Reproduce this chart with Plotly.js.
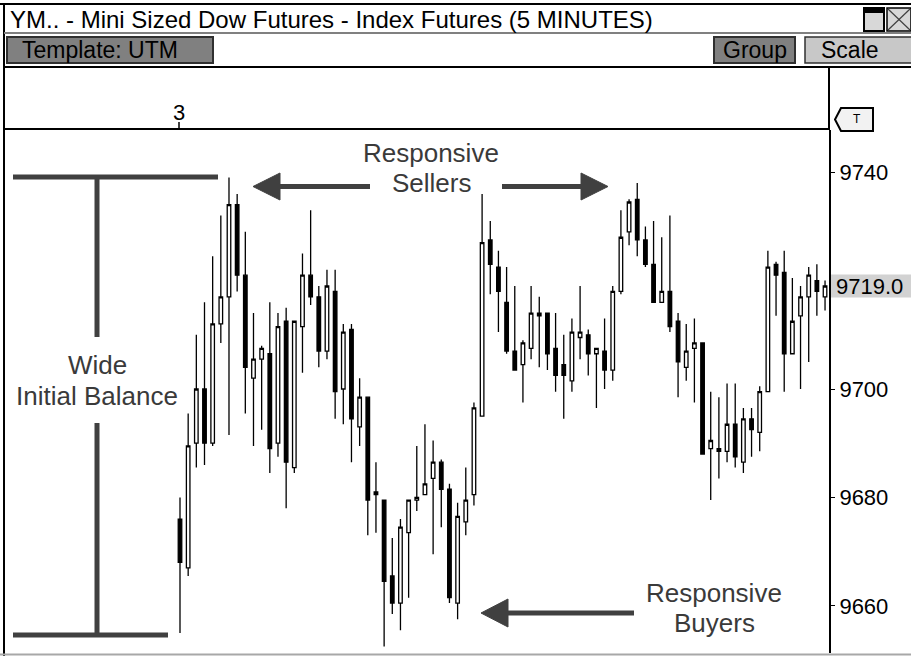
<!DOCTYPE html>
<html>
<head>
<meta charset="utf-8">
<script src="https://cdn.plot.ly/plotly-3.0.1.min.js"></script>
<style>
  html, body { margin: 0; padding: 0; background: #fff; }
  #chart { width: 911px; height: 656px; }
</style>
</head>
<body>
<div id="chart"></div>
<script>
// ---- data: YM 5-minute bars ----
const openP  = [9676,9667,9690,9700,9690,9712,9717,9734,9721,9702,
                9705.5,9706.5,9690,9712.5,9685.5,9711.5,9721,9717,9707,9718,
                9700,9711,9693,9698.5,9681,9679.5,9665.5,9660.5,9673.5,9679.5,
                9680.5,9683.5,9686.5,9681.5,9660.5,9675.5,9680.5,9695,9727.5,9722.5,
                9716,9707,9704.5,9707.5,9714,9714,9707.5,9704.5,9701.5,9709.5,
                9710,9706.5,9707,9703.5,9718,9729,9735,9727.5,9723,9716,
                9718,9712.5,9704,9707.5,9708.5,9689,9689,9688.5,9693.5,9686.5,
                9694.5,9692,9699.5,9723,9721.5,9706.5,9713.5,9717,9720,9717];
const highP  = [9680,9695.5,9710,9716,9724.5,9732,9739,9736,9729,9714,
                9708,9716,9714,9715,9712.5,9725,9733,9719,9722,9722,
                9712,9712,9702,9698.5,9686.5,9679.5,9672.5,9676,9679.5,9689.5,
                9693.5,9690.5,9687,9682.5,9679,9685.5,9697.5,9736,9731,9725.5,
                9722.5,9719,9709,9719,9717,9714,9714,9710,9713,9719,
                9711,9707.5,9713,9719,9733,9735,9738,9730,9731,9728,
                9732,9714,9712,9713,9708.5,9699.5,9698.5,9701,9701,9696.5,
                9696.5,9700.5,9725.5,9723.5,9725.5,9720.5,9719,9722.5,9723,9720];
const lowP   = [9655,9665.5,9685.5,9686,9689.5,9708.5,9691.5,9718,9695.5,9689.5,
                9692.5,9684.5,9687.5,9678,9684.5,9703,9715.5,9704,9705.5,9694.5,
                9693.5,9686.5,9689.5,9673,9673.5,9652.5,9658.5,9655.5,9661.5,9677.5,
                9680.5,9669.5,9674.5,9660.5,9657.5,9673,9678.5,9695,9717.5,9710.5,
                9706.5,9703.5,9697.5,9705.5,9704,9703.5,9699.5,9694.5,9699.5,9705.5,
                9702.5,9696.5,9700,9701.5,9717.5,9726.5,9724.5,9722.5,9716,9716,
                9710.5,9698.5,9701.5,9697.5,9688,9679.5,9683.5,9686.5,9685.5,9684.5,
                9687.5,9688.5,9699.5,9713.5,9699.5,9706.5,9700,9705,9713.5,9714.5];
const closeP = [9668,9689.5,9700,9690,9712,9717,9734,9721,9704,9705.5,
                9707.5,9689,9711.5,9686.5,9712.5,9721,9717,9707,9719,9699.5,
                9710.5,9694.5,9698.5,9679.5,9680.5,9664.5,9660.5,9674.5,9679.5,9680,
                9682.5,9686.5,9681.5,9661.5,9676.5,9679.5,9696.5,9727,9723,9718,
                9707,9703.5,9708.5,9714,9713.5,9706.5,9702.5,9702.5,9710.5,9710.5,
                9706.5,9707.5,9703.5,9718,9728,9734.5,9727.5,9723,9716,9718,
                9711.5,9705,9707,9708.5,9688,9690.5,9688.5,9693.5,9687.5,9694.5,
                9692.5,9699.5,9722.5,9721,9706.5,9712.5,9717,9721,9718,9719];
const barIndex = openP.map((_, i) => i);
const priceTicks = [9660, 9680, 9700, 9740];
const priceTickText = ['9660', '9680', '9700', '9740'];
const windowTitle = 'YM.. - Mini Sized Dow Futures - Index Futures (5 MINUTES)';
const dayMarker = '3';

// ---- geometry helpers (pixel -> paper) ----
const PL = 5, PR = 829, PT = 130, PB = 653;
const X = px => (px - PL) / (PR - PL);
const Y = py => (PB - py) / (PB - PT);
const pxPerPt = 5.42, ref9700 = 389;
const yTop = 9700 + (ref9700 - PT) / pxPerPt;
const yBot = 9700 - (PB - ref9700) / pxPerPt;
const barPx = 8.165, firstBarPx = 180;
const xLeft = (PL - firstBarPx) / barPx;
const xRight = (PR - firstBarPx) / barPx;

const UI = 'Liberation Sans, Arial, sans-serif';
const ANN = '#3a3a3a';
const shapes = [];
const annotations = [];
function line(x0, y0, x1, y1, color, width) {
  shapes.push({type: 'line', xref: 'paper', yref: 'paper', x0: X(x0), y0: Y(y0), x1: X(x1), y1: Y(y1),
               line: {color: color, width: width}, layer: 'above'});
}
function rect(x0, y0, x1, y1, fill, color, width) {
  shapes.push({type: 'rect', xref: 'paper', yref: 'paper', x0: X(x0), y0: Y(y0), x1: X(x1), y1: Y(y1),
               fillcolor: fill, line: {color: color, width: width}, layer: 'above'});
}
function poly(pts, fill, color, width) {
  const d = pts.map((p, i) => (i ? 'L' : 'M') + X(p[0]) + ',' + Y(p[1])).join(' ') + ' Z';
  shapes.push({type: 'path', xref: 'paper', yref: 'paper', path: d, fillcolor: fill,
               line: {color: color, width: width}, layer: 'above'});
}
function text(t, x, y, size, color, anchor) {
  annotations.push({text: t, xref: 'paper', yref: 'paper', x: X(x), y: Y(y), showarrow: false,
                    xanchor: anchor || 'center', yanchor: 'middle',
                    font: {family: UI, size: size, color: color}});
}

// ---- window chrome ----
line(0, 4, 911, 4, '#000', 2);
line(4, 3, 4, 656, '#000', 2);
text(windowTitle, 8, 19, 24, '#000', 'left');
rect(864, 8, 884, 31, '#d8d8d8', '#000', 2);
line(864, 11, 884, 11, '#000', 4);
rect(887, 8, 911, 31, '#d8d8d8', '#000', 1.5);
line(888, 9, 910, 30, '#404040', 1.2);
line(910, 9, 888, 30, '#404040', 1.2);
line(4, 33, 911, 33, '#808080', 2);
rect(7, 37, 213, 63, '#808080', '#303030', 2);
text('Template: UTM', 20, 50, 23, '#000', 'left');
rect(714, 37, 795, 63, '#808080', '#303030', 2);
text('Group', 754.5, 50, 23, '#000');
rect(805, 37, 912, 63, '#c8c8c8', '#303030', 1.5);
text('Scale', 850, 50, 23, '#000');
line(4, 67, 911, 67, '#000', 2);
line(829, 67, 829, 130, '#000', 2);
line(4, 129, 829, 129, '#000', 2);
text(dayMarker, 179, 112, 22, '#000');
line(179, 122, 179, 129, '#000', 1.5);
poly([[835, 119.5], [841, 108], [873, 108], [873, 131], [841, 131]], '#f2f2f2', '#000', 2);
text('T', 857, 119.5, 12, '#000');
line(0, 654.5, 911, 654.5, '#a8a8a8', 2);

// ---- annotation graphics ----
const G = '#404040';
line(13, 177, 218, 177, G, 5);
line(97, 177, 97, 337, G, 5);
line(97, 423, 97, 635, G, 5);
line(13, 635, 168, 635, G, 5);
text('Wide', 97, 365, 26, ANN);
text('Initial Balance', 97, 396, 26, ANN);

line(278, 186.5, 370, 186.5, G, 5);
poly([[253, 186.5], [280, 173], [280, 200]], G, G, 1);
line(502, 186.5, 584, 186.5, G, 5);
poly([[608, 186.5], [581, 173], [581, 200]], G, G, 1);
text('Responsive', 431, 153, 26, ANN);
text('Sellers', 431, 183, 26, ANN);

line(506, 613, 634, 613, G, 5);
poly([[481, 613], [508, 599], [508, 627]], G, G, 1);
text('Responsive', 714, 593, 26, ANN);
text('Buyers', 714, 623, 26, ANN);

// ---- last price marker ----
const lastClose = closeP[closeP.length - 1];
const halfBox = 11.5 / pxPerPt;
shapes.push({type: 'rect', xref: 'paper', yref: 'y', x0: X(831), x1: X(912),
             y0: lastClose - halfBox, y1: lastClose + halfBox,
             fillcolor: '#d2d2d2', line: {width: 0}, layer: 'below'});
annotations.push({text: lastClose.toFixed(1), xref: 'paper', yref: 'y', x: X(834), y: lastClose,
                  xanchor: 'left', yanchor: 'middle', showarrow: false,
                  font: {family: UI, size: 22, color: '#000'}});

const trace = {
  type: 'candlestick',
  x: barIndex, open: openP, high: highP, low: lowP, close: closeP,
  increasing: {line: {color: '#000', width: 1.3}, fillcolor: '#ffffff'},
  decreasing: {line: {color: '#000', width: 1.3}, fillcolor: '#000000'},
  whiskerwidth: 0,
  hoverinfo: 'skip',
  showlegend: false
};

const layout = {
  width: 911, height: 656,
  margin: {l: PL, r: 911 - PR, t: PT, b: 656 - PB, pad: 0},
  paper_bgcolor: '#ffffff', plot_bgcolor: '#ffffff',
  showlegend: false,
  boxgap: 0.38,
  xaxis: {range: [xLeft, xRight], showgrid: false, zeroline: false, showticklabels: false,
          ticks: '', showline: false, rangeslider: {visible: false}, fixedrange: true},
  yaxis: {range: [yBot, yTop], side: 'right', showgrid: false, zeroline: false,
          showline: true, linecolor: '#000', linewidth: 2,
          ticks: 'outside', ticklen: 4, tickwidth: 1, tickcolor: '#000',
          tickvals: priceTicks, ticktext: priceTickText,
          tickfont: {family: UI, size: 22, color: '#000'}, fixedrange: true},
  shapes: shapes,
  annotations: annotations
};

Plotly.newPlot('chart', [trace], layout, {staticPlot: true, displayModeBar: false});
</script>
</body>
</html>
